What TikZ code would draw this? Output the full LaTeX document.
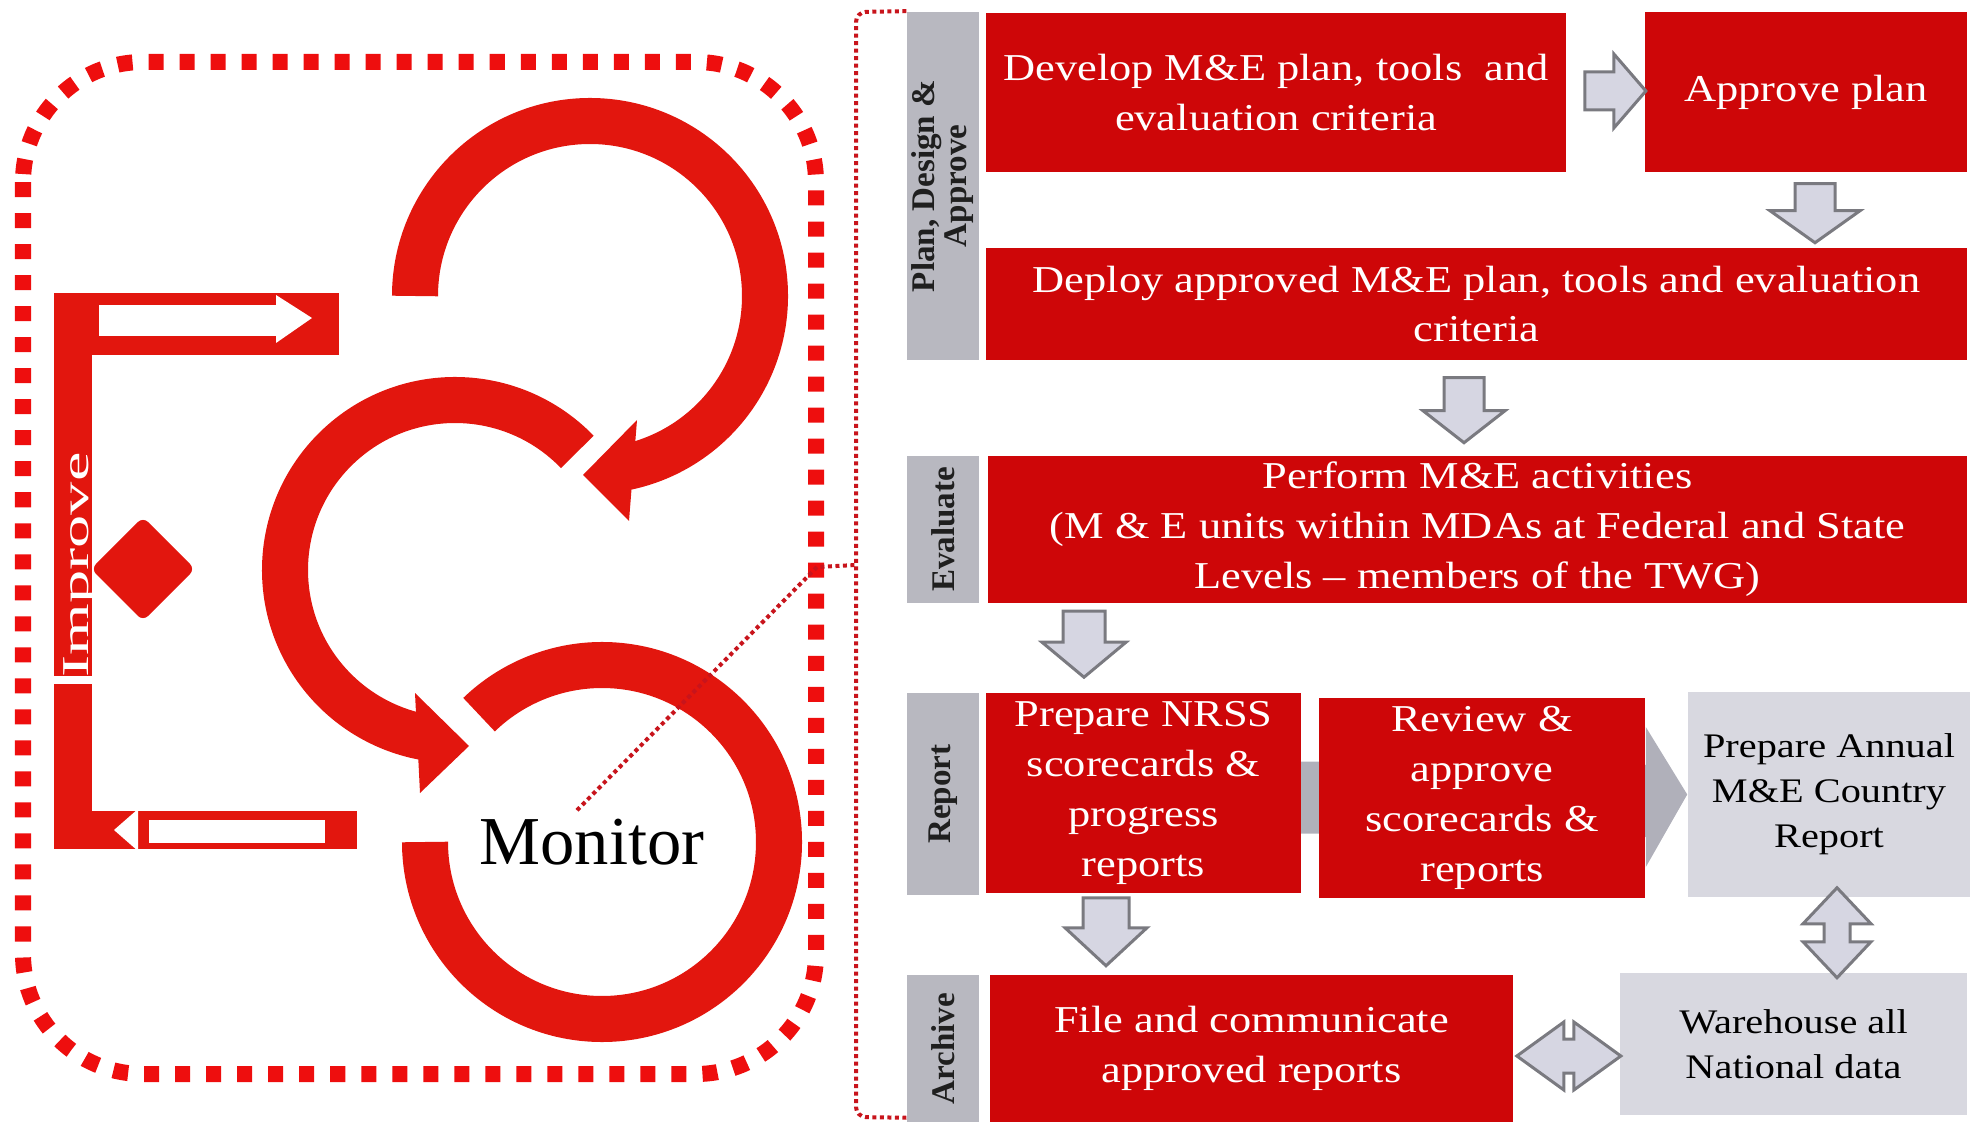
\documentclass[tikz,border=0pt]{standalone}
\usepackage{fontspec}
\setmainfont{Liberation Serif}
\newfontfamily\boxfont{Liberation Serif}[FakeStretch=1.17, Ligatures=TeX]
\newfontfamily\improvefont{Liberation Serif}[FakeStretch=1.75]
\usetikzlibrary{calc,backgrounds}

\definecolor{ringred}{RGB}{226,22,14}
\definecolor{rimred}{RGB}{238,14,14}
\definecolor{linkred}{RGB}{200,20,28}
\definecolor{boxred}{RGB}{206,6,8}
\definecolor{lanegrey}{RGB}{184,184,192}
\definecolor{palegrey}{RGB}{216,216,224}
\definecolor{chevgrey}{RGB}{176,176,186}
\definecolor{arrowfill}{RGB}{214,214,226}
\definecolor{arrowline}{RGB}{122,122,128}

% block arrows: {length}{half shaft}{half head}{head length}
\tikzset{
	pics/fatarrow/.style n args={4}{code={
		\draw[blockarrow] (0,-#2) -- ({#1-#4},-#2) -- ({#1-#4},-#3) -- (#1,0)
			-- ({#1-#4},#3) -- ({#1-#4},#2) -- (0,#2) -- cycle;
	}},
	pics/twinarrow/.style n args={4}{code={
		\draw[blockarrow] (0,0) -- (#4,-#3) -- (#4,-#2) -- ({#1-#4},-#2) -- ({#1-#4},-#3)
			-- (#1,0) -- ({#1-#4},#3) -- ({#1-#4},#2) -- (#4,#2) -- (#4,#3) -- cycle;
	}},
}

\begin{document}
\begin{tikzpicture}[x=0.01cm, y=-0.01cm,
		ring/.style={draw=ringred, line width=0.46cm},
		rim/.style={draw=rimred, line width=0.16cm, dash pattern=on 0.15cm off 0.16cm, rounded corners=1.2cm},
		lead/.style={draw=linkred, line width=0.04cm, dash pattern=on 0.04cm off 0.035cm},
		lane/.style={fill=lanegrey, minimum width=0.72cm, inner sep=0pt},
		lanetext/.style={rotate=90, align=center, inner sep=0pt, text=black!88, font=\bfseries\fontsize{9.4pt}{9.1pt}\selectfont},
		redbox/.style={fill=boxred, text=white, align=center, inner sep=0pt, font=\boxfont\fontsize{10.8pt}{14.2pt}\selectfont},
		palebox/.style={fill=palegrey, text=black, align=center, inner sep=0pt, font=\boxfont\fontsize{9.8pt}{12.8pt}\selectfont},
		blockarrow/.style={fill=arrowfill, draw=arrowline, line width=0.03cm}]
	\useasboundingbox (0,0) rectangle (1973,1122);

	%dashed frame
	\draw[rim] (23,62) rectangle (816,1074);

	%improve bracket
	\fill[ringred] (54,293) rectangle (339,355);
	\fill[ringred] (54,293) rectangle (92,676);
	\fill[ringred] (54,684) rectangle (92,849);
	\fill[ringred] (54,811) rectangle (357,849);
	\fill[white] (99,305) rectangle (276,336);
	\fill[white] (276,295) -- (312,318) -- (276,343) -- cycle;
	\fill[white] (138,809) -- (114,830) -- (138,851) -- cycle;
	\fill[white] (149,820) rectangle (325,843);
	\node (improve) at (88,565) [anchor=base, rotate=90, text=white, inner sep=0pt,
		font=\improvefont\fontsize{10.8pt}{13pt}\selectfont] {Improve};
	\fill[ringred, rounded corners=2] (143,517) -- (195,569) -- (143,621) -- (91,569) -- cycle;

	%three loops
	\coordinate (loop1) at (590,296);
	\coordinate (loop2) at (455,570);
	\coordinate (loop3) at (602,842);
	\draw[ring] (loop1) ++(180:175) arc[start angle=180, end angle=438, radius=175];
	\fill[ringred] ($(loop1)+(47,124)$) -- ($(loop1)+(39,225)$) -- ($(loop1)+(-7,179)$) -- cycle;
	\draw[ring] (loop2) ++(-44:170) arc[start angle=-44, end angle=-260, radius=170];
	\fill[ringred] ($(loop2)+(-40,123)$) -- ($(loop2)+(-35,223)$) -- ($(loop2)+(14,176)$) -- cycle;
	\draw[ring] (loop3) ++(180:177) arc[start angle=180, end angle=-134, radius=177];
	\node (monitor) at (592,842) [inner sep=0pt, font=\fontsize{19.5pt}{22pt}\selectfont] {Monitor};

	%lanes
	\node (plan) at (943,186) [lane, minimum height=3.48cm] {};
	\node (eval) at (943,529.5) [lane, minimum height=1.47cm] {};
	\node (report) at (943,794) [lane, minimum height=2.02cm] {};
	\node (archive) at (943,1048.5) [lane, minimum height=1.47cm] {};
	\node (plan-label) at (plan) [lanetext] {Plan, Design \&\\Approve};
	\node (eval-label) at (eval) [lanetext] {Evaluate};
	\node (report-label) at (report) [lanetext] {Report};
	\node (archive-label) at (archive) [lanetext] {Archive};

	%dotted lead
	\coordinate (tap) at (817,567);
	\coordinate (bend) at (856,565);
	\draw[lead] ($(monitor.north)+(-15,-8)$) -- (tap) -- (bend);
	\draw[lead, rounded corners=0.1cm] (plan.north west) -- (856,12) -- (856,1117) -- ($(archive.south west)+(0,-5)$);

	%steps
	\node (develop) at (1276,92.5) [redbox, minimum width=5.8cm, minimum height=1.59cm] {Develop M\&E plan, tools~ and\\evaluation criteria};
	\node (approve) at (1806,92) [redbox, minimum width=3.22cm, minimum height=1.6cm] {Approve plan};
	\node (deploy) at (1476.5,304) [redbox, minimum width=9.81cm, minimum height=1.12cm] {Deploy approved M\&E plan, tools and evaluation\\criteria};
	\node (perform) at (1477.5,529.5) [redbox, minimum width=9.79cm, minimum height=1.47cm] {Perform M\&E activities\\(M \& E units within MDAs at Federal and State\\Levels \textendash{} members of the TWG)};
	\node (nrss) at (1143.5,793) [redbox, minimum width=3.15cm, minimum height=2cm] {Prepare NRSS\\scorecards \&\\progress\\reports};
	\node (review) at (1482,798) [redbox, minimum width=3.26cm, minimum height=2cm] {Review \&\\approve\\scorecards \&\\reports};
	\node (annual) at (1829,794.5) [palebox, minimum width=2.82cm, minimum height=2.05cm] {Prepare Annual\\M\&E Country\\Report};
	\node (file) at (1251.5,1048.5) [redbox, minimum width=5.23cm, minimum height=1.47cm] {File and communicate\\approved reports};
	\node (warehouse) at (1793.5,1044) [palebox, minimum width=3.47cm, minimum height=1.42cm] {Warehouse all\\National data};

	\begin{scope}[on background layer]
		\fill[chevgrey] ($(nrss.center)+(0,-33)$) -- ($(review.east)+(0,-33)$) -- ($(review.east)+(0,-71)$)
			-- (annual.west) -- ($(review.east)+(0,69)$) -- ($(review.east)+(0,39)$) -- ($(nrss.center)+(0,39)$) -- cycle;
	\end{scope}

	%arrows between steps
	\pic at ($(develop.east)+(18,-1.5)$) {fatarrow={61}{19}{37}{32}};
	\pic[rotate=-90] at ($(approve.south)+(9,11)$) {fatarrow={59}{20}{45}{32}};
	\pic[rotate=-90] at ($(deploy.south)+(-12.5,17)$) {fatarrow={65}{20}{41}{32}};
	\pic[rotate=-90] at ($(nrss.north)+(-59.5,-81)$) {fatarrow={66}{21}{42}{35}};
	\pic[rotate=-90] at ($(nrss.south)+(-37.5,4)$) {fatarrow={68}{23}{41}{38}};
	\pic[rotate=-90] at ($(annual.south)+(8,-10)$) {twinarrow={90}{13}{34}{36}};
	\pic at ($(file.east)+(3,7.5)$) {twinarrow={104}{17}{34}{47}};
\end{tikzpicture}
\end{document}
